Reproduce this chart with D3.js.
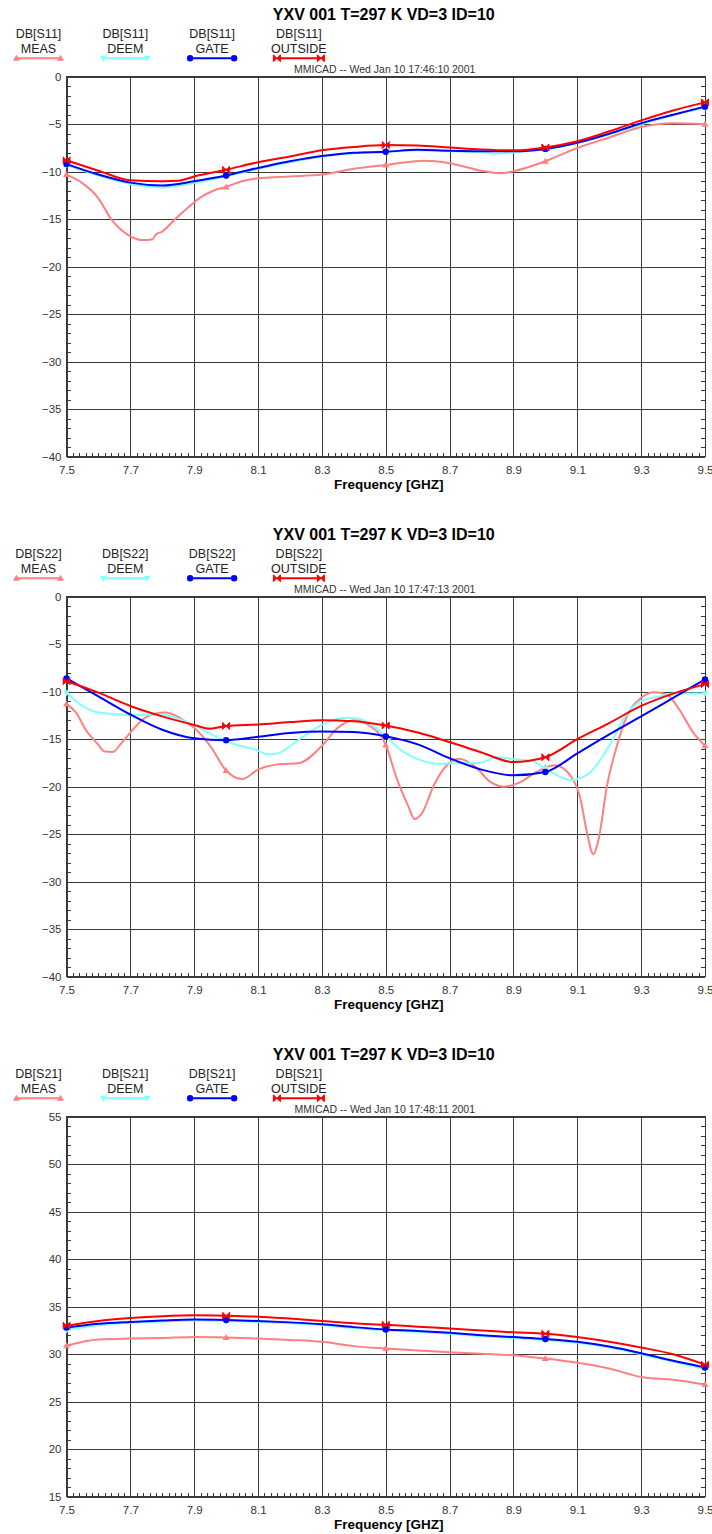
<!DOCTYPE html>
<html>
<head>
<meta charset="utf-8">
<script src="https://cdn.jsdelivr.net/npm/d3@7"></script>
<style>
  body { margin: 0; background: #fff; }
  svg { display: block; font-family: "Liberation Sans", Arial, sans-serif; }
</style>
</head>
<body>
<div id="chart"></div>
<script>
// frequency axis (GHz)
const freqDomain = [7.5, 9.5];
const freqTicks = [7.5, 7.7, 7.9, 8.1, 8.3, 8.5, 8.7, 8.9, 9.1, 9.3, 9.5];
const markerFreqs = [7.5, 8.0, 8.5, 9.0, 9.5];

const titleText = "YXV 001 T=297 K VD=3 ID=10";
const params = ["S11", "S22", "S21"];
const stamps = [
  "MMICAD -- Wed Jan 10 17:46:10 2001",
  "MMICAD -- Wed Jan 10 17:47:13 2001",
  "MMICAD -- Wed Jan 10 17:48:11 2001"
];
const yTicks = [
  [-40, -35, -30, -25, -20, -15, -10, -5, 0],
  [-40, -35, -30, -25, -20, -15, -10, -5, 0],
  [15, 20, 25, 30, 35, 40, 45, 50, 55]
];
const seriesNames = ["MEAS", "DEEM", "GATE", "OUTSIDE"];
const seriesColors = ["#ff8080", "#80ffff", "#0000ff", "#ff0000"];

// DB[S11]  [freq, dB]
const s11Meas = [[7.5,-10.3],[7.55,-11.2],[7.6,-12.8],[7.64,-15.0],[7.7,-16.8],[7.74,-17.2],[7.77,-17.1],[7.78,-16.6],
  [7.8,-16.3],[7.84,-15.0],[7.88,-13.8],[7.92,-12.7],[7.96,-12.0],[8.0,-11.6],[8.05,-11.0],[8.1,-10.7],[8.2,-10.5],
  [8.3,-10.3],[8.4,-9.7],[8.5,-9.3],[8.62,-8.85],[8.7,-9.1],[8.8,-9.9],[8.86,-10.15],[8.9,-9.95],[9.0,-8.9],
  [9.1,-7.5],[9.2,-6.4],[9.3,-5.3],[9.4,-4.9],[9.5,-5.0]];
const s11Deem = [[7.5,-9.3],[7.6,-10.4],[7.7,-11.3],[7.8,-11.65],[7.9,-11.2],[8.0,-10.5],[8.1,-9.7],[8.2,-9.0],
  [8.3,-8.4],[8.4,-8.05],[8.5,-7.95],[8.6,-7.75],[8.7,-7.85],[8.8,-7.95],[8.85,-8.1],[8.9,-7.95],[9.0,-7.65],
  [9.1,-6.95],[9.2,-6.05],[9.3,-5.0],[9.4,-4.05],[9.5,-3.25]];
const s11Gate = [[7.5,-9.2],[7.6,-10.3],[7.7,-11.15],[7.8,-11.45],[7.9,-11.0],[8.0,-10.4],[8.1,-9.6],[8.2,-8.9],
  [8.3,-8.35],[8.4,-8.0],[8.5,-7.9],[8.6,-7.7],[8.7,-7.8],[8.8,-7.85],[8.9,-7.85],[9.0,-7.6],[9.1,-6.95],
  [9.2,-6.0],[9.3,-4.9],[9.4,-4.0],[9.5,-3.15]];
const s11Outside = [[7.5,-8.8],[7.6,-9.9],[7.7,-10.9],[7.8,-11.0],[7.85,-10.95],[7.9,-10.5],[8.0,-9.8],[8.1,-9.0],
  [8.2,-8.4],[8.3,-7.75],[8.4,-7.4],[8.5,-7.2],[8.6,-7.25],[8.7,-7.45],[8.8,-7.65],[8.9,-7.75],[9.0,-7.45],
  [9.1,-6.8],[9.2,-5.75],[9.3,-4.6],[9.4,-3.55],[9.5,-2.7]];

// DB[S22]
const s22Meas = [[7.5,-11.3],[7.53,-12.2],[7.56,-14.0],[7.595,-15.4],[7.62,-16.3],[7.645,-16.35],[7.67,-15.5],
  [7.7,-14.3],[7.74,-12.9],[7.78,-12.3],[7.81,-12.2],[7.855,-12.75],[7.9,-13.8],[7.95,-15.7],[8.0,-18.3],
  [8.05,-19.2],[8.1,-18.2],[8.16,-17.65],[8.23,-17.5],[8.3,-15.7],[8.35,-13.8],[8.4,-13.0],[8.45,-13.6],
  [8.5,-15.6],[8.535,-19.2],[8.57,-22.0],[8.59,-23.4],[8.615,-22.7],[8.65,-19.9],[8.69,-17.8],[8.73,-17.05],
  [8.78,-17.9],[8.83,-19.55],[8.87,-20.0],[8.92,-19.55],[8.97,-18.5],[9.0,-18.0],[9.03,-17.75],[9.08,-18.9],
  [9.11,-21.3],[9.13,-24.8],[9.15,-27.1],[9.167,-25.5],[9.193,-19.9],[9.224,-15.7],[9.255,-12.6],[9.3,-10.65],
  [9.34,-10.05],[9.38,-10.3],[9.42,-11.9],[9.46,-14.15],[9.5,-15.7]];
const s22Deem = [[7.5,-10.1],[7.55,-11.5],[7.6,-12.2],[7.7,-12.45],[7.8,-12.4],[7.855,-12.9],[7.9,-13.55],
  [8.0,-15.2],[8.05,-15.75],[8.1,-16.2],[8.13,-16.6],[8.16,-16.5],[8.23,-15.0],[8.3,-13.5],[8.37,-12.75],
  [8.42,-12.9],[8.46,-13.6],[8.5,-14.7],[8.55,-16.2],[8.6,-17.1],[8.67,-17.6],[8.73,-17.5],[8.79,-17.5],
  [8.85,-16.9],[8.9,-17.1],[8.96,-17.3],[9.0,-18.1],[9.08,-19.3],[9.14,-18.5],[9.2,-15.7],[9.25,-12.6],
  [9.3,-11.0],[9.36,-10.5],[9.4,-10.2],[9.5,-10.2]];
const s22Gate = [[7.5,-8.6],[7.6,-10.5],[7.7,-12.4],[7.8,-14.0],[7.9,-14.9],[8.0,-15.1],[8.1,-14.75],[8.2,-14.35],
  [8.3,-14.2],[8.4,-14.25],[8.5,-14.7],[8.6,-15.55],[8.7,-17.0],[8.8,-18.2],[8.9,-18.8],[9.0,-18.45],[9.1,-16.5],
  [9.2,-14.5],[9.3,-12.6],[9.4,-10.65],[9.5,-8.7]];
const s22Outside = [[7.5,-8.9],[7.6,-10.1],[7.7,-11.5],[7.8,-12.6],[7.9,-13.5],[7.95,-13.9],[8.0,-13.6],[8.1,-13.45],
  [8.2,-13.2],[8.3,-13.0],[8.4,-13.1],[8.5,-13.55],[8.6,-14.3],[8.7,-15.3],[8.8,-16.4],[8.9,-17.4],[9.0,-16.9],
  [9.1,-15.0],[9.2,-13.3],[9.3,-11.5],[9.4,-10.2],[9.5,-9.2]];

// DB[S21]
const s21Meas = [[7.5,30.9],[7.6,31.55],[7.7,31.65],[7.8,31.7],[7.9,31.8],[8.0,31.75],[8.1,31.65],[8.2,31.5],
  [8.3,31.3],[8.4,30.85],[8.5,30.6],[8.6,30.4],[8.7,30.2],[8.8,30.05],[8.9,29.9],[9.0,29.55],[9.1,29.1],
  [9.2,28.5],[9.3,27.6],[9.4,27.3],[9.5,26.8]];
const s21Deem = [[7.5,32.55],[7.6,33.05],[7.7,33.3],[7.8,33.45],[7.9,33.55],[8.0,33.5],[8.1,33.4],[8.2,33.25],
  [8.3,33.05],[8.4,32.75],[8.5,32.5],[8.6,32.35],[8.7,32.15],[8.8,31.9],[8.9,31.7],[9.0,31.5],[9.1,31.2],
  [9.2,30.7],[9.3,30.0],[9.4,29.2],[9.5,28.45]];
const s21Gate = [[7.5,32.8],[7.6,33.2],[7.7,33.4],[7.8,33.55],[7.9,33.65],[8.0,33.6],[8.1,33.5],[8.2,33.35],
  [8.3,33.15],[8.4,32.85],[8.5,32.6],[8.6,32.45],[8.7,32.25],[8.8,32.0],[8.9,31.8],[9.0,31.6],[9.1,31.3],
  [9.2,30.8],[9.3,30.1],[9.4,29.3],[9.5,28.6]];
const s21Outside = [[7.5,33.0],[7.6,33.5],[7.7,33.8],[7.8,34.0],[7.9,34.1],[8.0,34.05],[8.1,33.95],[8.2,33.75],
  [8.3,33.5],[8.4,33.25],[8.5,33.1],[8.6,32.9],[8.7,32.7],[8.8,32.5],[8.9,32.3],[9.0,32.15],[9.1,31.8],
  [9.2,31.3],[9.3,30.7],[9.4,30.0],[9.5,28.9]];

const panelSeries = [
  [s11Meas, s11Deem, s11Gate, s11Outside],
  [s22Meas, s22Deem, s22Gate, s22Outside],
  [s21Meas, s21Deem, s21Gate, s21Outside]
];

const width = 712;
const height = 1534;
const plotLeft = 66.5;
const plotRight = 705;
const plotTop = 76.7;
const plotH = 380;
const panelStep = 520;
const plotW = plotRight - plotLeft;
const gridColor = "#3a3a3a";

const svg = d3.select("#chart")
  .append("svg")
  .attr("width", width)
  .attr("height", height);

const x = d3.scaleLinear().domain(freqDomain).range([0, plotW]);

// marker shapes per series
function drawMarker(sel, idx, color) {
  if (idx === 0) {
    sel.append("path").attr("d", "M0,-3.5L3.5,2.5L-3.5,2.5Z").attr("fill", color);
  } else if (idx === 1) {
    sel.append("path").attr("d", "M0,3.5L3.5,-2.5L-3.5,-2.5Z").attr("fill", color);
  } else if (idx === 2) {
    sel.append("circle").attr("r", 3.2).attr("fill", color);
  } else {
    sel.append("path").attr("d", "M-3.5,-3.5L3.5,3.5L3.5,-3.5L-3.5,3.5Z").attr("fill", color)
      .attr("stroke", color).attr("stroke-width", 1);
  }
}

params.forEach((param, p) => {
  const top = p * panelStep;
  const g = svg.append("g").attr("transform", `translate(0,${top})`);
  const ticks = yTicks[p];
  const y = d3.scaleLinear().domain(d3.extent(ticks)).range([plotH, 0]);

  // title
  g.append("text")
    .attr("x", plotLeft + plotW / 2 - 2)
    .attr("y", 19.5)
    .attr("text-anchor", "middle")
    .attr("font-weight", "bold")
    .attr("font-size", 16)
    .attr("fill", "#000")
    .text(titleText);

  // legend
  seriesNames.forEach((name, i) => {
    const cx = 38.5 + i * 86.8;
    const lg = g.append("g").attr("transform", `translate(${cx},0)`);
    lg.append("text").attr("y", 37.5).attr("text-anchor", "middle")
      .attr("font-size", 12.5).attr("fill", "#222").text(`DB[${param}]`);
    lg.append("text").attr("y", 52.5).attr("text-anchor", "middle")
      .attr("font-size", 12.5).attr("fill", "#222").text(name);
    lg.append("line").attr("x1", -22).attr("x2", 22).attr("y1", 58.3).attr("y2", 58.3)
      .attr("stroke", seriesColors[i]).attr("stroke-width", 2);
    [-22, 22].forEach(dx => {
      drawMarker(lg.append("g").attr("transform", `translate(${dx},58.3)`), i, seriesColors[i]);
    });
  });

  // date stamp
  g.append("text")
    .attr("x", plotLeft + plotW / 2 - 1)
    .attr("y", 73)
    .attr("text-anchor", "middle")
    .attr("font-size", 10.5)
    .attr("fill", "#333")
    .text(stamps[p]);

  const plot = g.append("g").attr("transform", `translate(${plotLeft},${plotTop})`);

  // minor ticks
  const minorY = d3.range(ticks[0], ticks[ticks.length - 1] + 0.5, 1);
  const minorX = d3.range(0, 101).map(k => freqDomain[0] + k * 0.02);
  plot.append("g").call(d3.axisLeft(y).tickValues(minorY).tickSize(-4).tickFormat(""))
    .call(s => s.select(".domain").remove())
    .call(s => s.selectAll("line").attr("stroke", gridColor).attr("shape-rendering", "crispEdges"));
  plot.append("g").attr("transform", `translate(${plotW},0)`)
    .call(d3.axisRight(y).tickValues(minorY).tickSize(-4).tickFormat(""))
    .call(s => s.select(".domain").remove())
    .call(s => s.selectAll("line").attr("stroke", gridColor).attr("shape-rendering", "crispEdges"));
  plot.append("g").attr("transform", `translate(0,${plotH})`)
    .call(d3.axisBottom(x).tickValues(minorX).tickSize(-4).tickFormat(""))
    .call(s => s.select(".domain").remove())
    .call(s => s.selectAll("line").attr("stroke", gridColor).attr("shape-rendering", "crispEdges"));

  // major grid + labels
  plot.append("g")
    .call(d3.axisLeft(y).tickValues(ticks).tickSize(-plotW).tickPadding(5).tickFormat(d3.format("d")))
    .call(s => s.select(".domain").remove())
    .call(s => s.selectAll("line").attr("stroke", gridColor).attr("shape-rendering", "crispEdges"))
    .call(s => s.selectAll("text").attr("font-size", 11.5).attr("fill", "#333")
      .attr("font-family", "Liberation Sans, Arial, sans-serif"));
  plot.append("g").attr("transform", `translate(0,${plotH})`)
    .call(d3.axisBottom(x).tickValues(freqTicks).tickSize(-plotH).tickPadding(9).tickFormat(d3.format(".1f")))
    .call(s => s.select(".domain").remove())
    .call(s => s.selectAll("line").attr("stroke", gridColor).attr("shape-rendering", "crispEdges"))
    .call(s => s.selectAll("text").attr("font-size", 11.5).attr("fill", "#333")
      .attr("font-family", "Liberation Sans, Arial, sans-serif"));

  plot.append("rect").attr("width", plotW).attr("height", plotH)
    .attr("fill", "none").attr("stroke", gridColor).attr("shape-rendering", "crispEdges");

  // curves
  const clipId = `clip${p}`;
  plot.append("clipPath").attr("id", clipId)
    .append("rect").attr("x", -4).attr("y", -4).attr("width", plotW + 8).attr("height", plotH + 8);
  const curves = plot.append("g").attr("clip-path", `url(#${clipId})`);
  const line = d3.line().x(d => x(d[0])).y(d => y(d[1])).curve(d3.curveMonotoneX);

  panelSeries[p].forEach((data, i) => {
    curves.append("path")
      .datum(data)
      .attr("d", line)
      .attr("fill", "none")
      .attr("stroke", seriesColors[i])
      .attr("stroke-width", 2)
      .attr("stroke-linejoin", "round");
    data.filter(d => markerFreqs.some(f => Math.abs(f - d[0]) < 1e-6)).forEach(d => {
      drawMarker(curves.append("g").attr("transform", `translate(${x(d[0])},${y(d[1])})`), i, seriesColors[i]);
    });
  });

  // axis title
  g.append("text")
    .attr("x", plotLeft + plotW / 2 + 3)
    .attr("y", 488.5)
    .attr("text-anchor", "middle")
    .attr("font-weight", "bold")
    .attr("font-size", 13.5)
    .attr("fill", "#000")
    .text("Frequency [GHZ]");
});
</script>
</body>
</html>
